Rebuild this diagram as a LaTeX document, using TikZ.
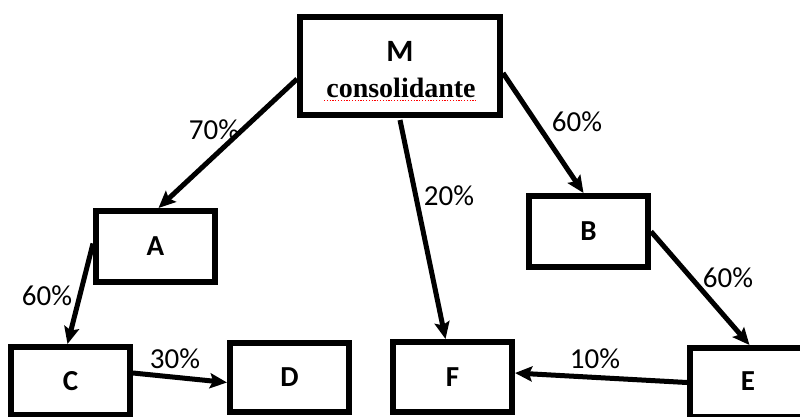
\documentclass[tikz,border=0pt]{standalone}
\usepackage{fontspec}
\setmainfont{Carlito}
\newfontfamily\serifbold{Liberation Serif}
\usetikzlibrary{arrows.meta,calc}
\begin{document}
\begin{tikzpicture}[x=1pt,y=-1pt,
  box/.style={draw=black,line width=6pt,inner sep=0pt,font=\fontsize{29}{31}\selectfont\bfseries},
  conn/.style={line width=5pt,-{Stealth[length=17pt,width=15pt,inset=3pt]}},
  pct/.style={inner sep=0pt,font=\fontsize{29}{31}\selectfont}]
\useasboundingbox (0,0) rectangle (800,416);
\clip (0,0) rectangle (800,416);
% boxes
\node[box,minimum width=200pt,minimum height=98pt] (M) at (400,66) {};
\node[inner sep=0pt,font=\fontsize{31}{33}\selectfont\bfseries] (Mt) at (400,51) {M};
\node[inner sep=0pt,anchor=base,font=\fontsize{28}{30}\serifbold\bfseries] (Mc) at (401,97) {consolidante};
\draw[red,line width=1.2pt,dash pattern=on 1.2pt off 1.6pt] (324,100.5) -- (477,100.5);
\node[box,minimum width=119pt,minimum height=71pt] (A) at (155.5,246.5) {A};
\node[box,minimum width=119pt,minimum height=71pt] (B) at (588.5,231.5) {B};
\node[box,minimum width=119pt,minimum height=68pt] (C) at (70.5,381) {C};
\node[box,minimum width=119pt,minimum height=69pt] (D) at (289.5,377.5) {D};
\node[box,minimum width=119pt,minimum height=70pt] (F) at (452.5,377) {F};
\node[box,minimum width=119pt,minimum height=69pt] (E) at (749.5,382.5) {};
\node[inner sep=0pt,font=\fontsize{29}{31}\selectfont\bfseries] (Et) at (748,381) {E};
% connectors
\draw[conn] ($(M.west)+(0,13)$) -- ($(A.north)+(3,0)$);
\draw[conn] ($(M.south)+(0,2)$) -- ($(F.north)+(-7,0)$);
\draw[conn] ($(M.east)+(0,7)$) -- ($(B.north)+(-5,0)$);
\draw[conn] ($(A.west)+(0,-3)$) -- ($(C.north)+(-3,0)$);
\draw[conn] ($(C.east)+(0,-8)$) -- ($(D.west)+(0,5)$);
\draw[conn] (B.east) -- (E.north);
\draw[conn] (E.west) -- ($(F.east)+(0,-4)$);
% labels
\node[pct] (l1) at (214,130) {70\%};
\node[pct] (l2) at (449,196) {20\%};
\node[pct] (l3) at (577,122) {60\%};
\node[pct] (l4) at (47,296) {60\%};
\node[pct] (l5) at (175,359) {30\%};
\node[pct] (l6) at (728,278) {60\%};
\node[pct] (l7) at (595,359) {10\%};
\end{tikzpicture}
\end{document}
